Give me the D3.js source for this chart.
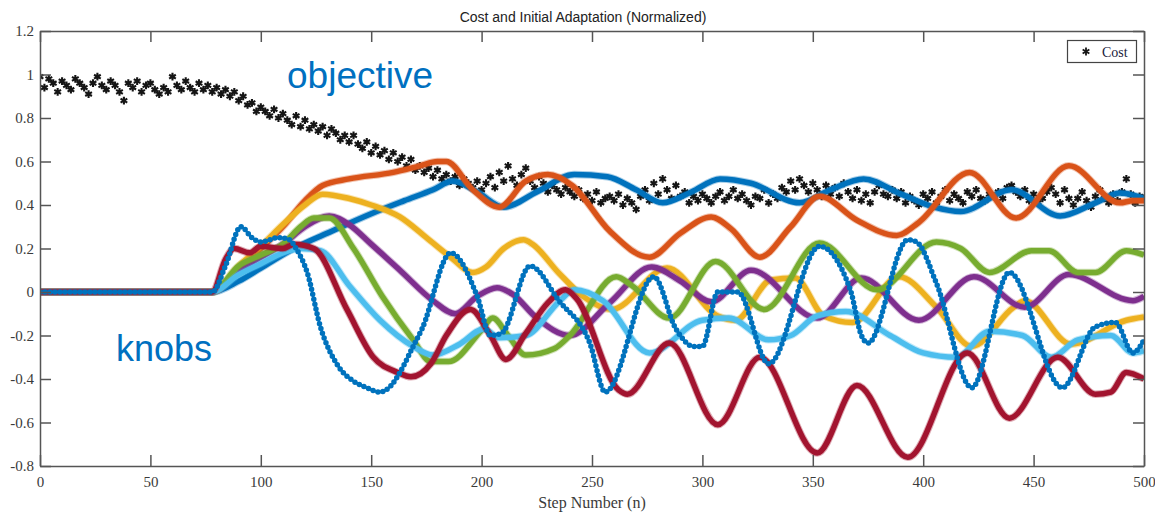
<!DOCTYPE html>
<html>
<head>
<meta charset="utf-8">
<script src="https://cdn.jsdelivr.net/npm/d3@7/dist/d3.min.js"></script>
<style>
  html, body { margin: 0; padding: 0; background: #fff; }
  svg { display: block; }
</style>
</head>
<body>
<svg id="chart" width="1155" height="514"></svg>
<script>
// ---- data -------------------------------------------------------------
const xTicks = [0, 50, 100, 150, 200, 250, 300, 350, 400, 450, 500];
const yTicks = [1.2, 1, 0.8, 0.6, 0.4, 0.2, 0, -0.2, -0.4, -0.6, -0.8];
const yTickLabels = ["1.2", "1", "0.8", "0.6", "0.4", "0.2", "0", "-0.2", "-0.4", "-0.6", "-0.8"];

// normalized cost, sampled every 2 steps (0..500)
const costStep = 2;
const cost = [
  0.99, 0.94, 0.98, 0.96, 0.92, 0.97, 0.95, 0.93, 0.98, 0.96,
  0.94, 0.91, 0.96, 0.99, 0.95, 0.93, 0.97, 0.95, 0.92, 0.88,
  0.96, 0.94, 0.97, 0.92, 0.95, 0.96, 0.93, 0.91, 0.94, 0.92,
  0.99, 0.95, 0.93, 0.97, 0.94, 0.92, 0.96, 0.93, 0.95, 0.92,
  0.94, 0.91, 0.93, 0.90, 0.92, 0.88, 0.90, 0.86, 0.87, 0.83,
  0.85, 0.83, 0.81, 0.84, 0.80, 0.82, 0.79, 0.77, 0.81, 0.76,
  0.79, 0.75, 0.77, 0.74, 0.76, 0.72, 0.75, 0.73, 0.70, 0.72,
  0.69, 0.72, 0.68, 0.66, 0.69, 0.64, 0.67, 0.63, 0.65, 0.61,
  0.64, 0.60, 0.62, 0.58, 0.61, 0.56, 0.58, 0.55, 0.57, 0.53,
  0.56, 0.52, 0.54, 0.51, 0.53, 0.49, 0.52, 0.50, 0.48, 0.51,
  0.47, 0.50, 0.53, 0.48, 0.55, 0.51, 0.58, 0.52, 0.49, 0.54,
  0.57, 0.51, 0.48, 0.53, 0.50, 0.46, 0.49, 0.47, 0.45, 0.48,
  0.46, 0.44, 0.47, 0.43, 0.45, 0.42, 0.46, 0.41, 0.43, 0.44,
  0.42, 0.45, 0.40, 0.43, 0.41, 0.38, 0.44, 0.47, 0.42, 0.50,
  0.45, 0.52, 0.47, 0.43, 0.49, 0.44, 0.46, 0.41, 0.44, 0.42,
  0.45, 0.43, 0.41, 0.44, 0.46, 0.42, 0.44, 0.47, 0.43, 0.45,
  0.42, 0.40, 0.44, 0.43, 0.47, 0.41, 0.45, 0.43, 0.48, 0.46,
  0.51, 0.47, 0.52, 0.49, 0.46, 0.50, 0.47, 0.44, 0.49, 0.45,
  0.48, 0.44, 0.50, 0.46, 0.43, 0.47, 0.42, 0.45, 0.41, 0.46,
  0.49, 0.45, 0.44, 0.47, 0.43, 0.46, 0.41, 0.44, 0.42, 0.40,
  0.45, 0.43, 0.46, 0.41, 0.44, 0.47, 0.42, 0.45, 0.43, 0.41,
  0.46, 0.44, 0.47, 0.43, 0.42, 0.45, 0.44, 0.46, 0.43, 0.48,
  0.49, 0.46, 0.44, 0.47, 0.42, 0.45, 0.41, 0.43, 0.46, 0.48,
  0.45, 0.41, 0.47, 0.43, 0.40, 0.43, 0.46, 0.42, 0.39, 0.44,
  0.47, 0.43, 0.41, 0.45, 0.42, 0.46, 0.52, 0.45, 0.41, 0.44,
  0.43
];

// knob trajectories as [step, value] pairs
const knobBlue = [[0,0],[78,0],[90,0.05],[100,0.11],[115,0.2],[130,0.27],[150,0.36],[165,0.42],[178,0.47],[187,0.51],[198,0.46],[210,0.39],[225,0.46],[242,0.54],[257,0.53],[270,0.47],[282,0.41],[295,0.46],[308,0.52],[322,0.5],[344,0.41],[358,0.47],[373,0.52],[390,0.45],[405,0.39],[417,0.37],[440,0.47],[462,0.35],[478,0.41],[489,0.455],[500,0.43]];
const knobOrange = [[0,0],[78,0],[90,0.1],[100,0.2],[110,0.3],[120,0.42],[128,0.49],[140,0.52],[160,0.55],[172,0.58],[180,0.6],[184,0.6],[196,0.47],[208,0.39],[220,0.51],[230,0.54],[241,0.49],[258,0.28],[276,0.16],[290,0.27],[304,0.345],[313,0.29],[326,0.16],[340,0.3],[353,0.44],[370,0.33],[388,0.26],[398,0.32],[421,0.55],[442,0.34],[466,0.58],[489,0.41],[495,0.42],[500,0.42]];
const knobYellow = [[0,0],[78,0],[90,0.12],[100,0.21],[110,0.31],[120,0.4],[128,0.45],[140,0.43],[150,0.4],[163,0.345],[175,0.25],[186,0.16],[196,0.09],[202,0.115],[210,0.2],[219,0.24],[223,0.22],[235,0.087],[246,-0.02],[259,-0.08],[284,0.11],[307,-0.11],[315,-0.13],[331,0.055],[342,0.064],[355,-0.11],[368,-0.14],[389,0.07],[406,-0.07],[422,-0.25],[441,-0.07],[446,-0.04],[467,-0.24],[492,-0.13],[500,-0.115]];
const knobPurple = [[0,0],[78,0],[90,0.1],[100,0.16],[110,0.22],[120,0.3],[131,0.35],[140,0.31],[150,0.22],[163,0.1],[178,-0.04],[188,-0.1],[198,-0.02],[207,0.02],[214,-0.01],[225,-0.12],[240,-0.2],[258,-0.05],[277,0.115],[290,0.05],[304,-0.045],[322,0.1],[352,-0.12],[372,0.064],[398,-0.13],[423,0.07],[446,-0.07],[466,0.08],[495,-0.04],[500,-0.02]];
const knobGreen = [[0,0],[78,0],[90,0.12],[100,0.17],[110,0.22],[118,0.3],[124,0.34],[131,0.34],[142,0.2],[155,-0.02],[169,-0.22],[177,-0.32],[185,-0.32],[200,-0.175],[205,-0.12],[212,-0.2],[220,-0.29],[233,-0.26],[240,-0.2],[261,0.07],[268,0.03],[285,-0.12],[306,0.14],[328,-0.08],[353,0.225],[379,0.01],[406,0.23],[417,0.2],[430,0.09],[449,0.19],[457,0.19],[470,0.09],[478,0.09],[492,0.19],[500,0.17]];
const knobLightBlue = [[0,0],[78,0],[90,0.08],[100,0.13],[110,0.18],[118,0.2],[127,0.19],[140,0.03],[154,-0.13],[169,-0.25],[178,-0.29],[190,-0.24],[201,-0.17],[208,-0.21],[220,-0.2],[235,-0.045],[242,0.01],[255,-0.04],[276,-0.28],[300,-0.13],[312,-0.12],[330,-0.22],[340,-0.2],[352,-0.11],[365,-0.09],[385,-0.2],[400,-0.28],[415,-0.3],[430,-0.18],[445,-0.2],[458,-0.3],[470,-0.22],[485,-0.2],[495,-0.28],[500,-0.27]];
const knobDarkRed = [[0,0],[78,0],[84,0.15],[88,0.2],[95,0.18],[100,0.21],[110,0.2],[115,0.22],[124,0.2],[139,-0.08],[151,-0.3],[162,-0.37],[168,-0.39],[177,-0.33],[184,-0.2],[195,-0.08],[204,-0.2],[211,-0.31],[220,-0.19],[230,-0.05],[238,0.01],[243,-0.03],[262,-0.45],[266,-0.47],[285,-0.235],[307,-0.61],[326,-0.3],[352,-0.74],[370,-0.43],[393,-0.76],[420,-0.28],[439,-0.58],[461,-0.3],[478,-0.47],[485,-0.46],[492,-0.37],[500,-0.4]];
const knobBlueFast = [[0,0],[78,0],[84,0.12],[91,0.3],[96,0.25],[100,0.23],[108,0.25],[113,0.24],[116,0.2],[121,0.09],[127,-0.16],[135,-0.34],[142,-0.41],[148,-0.44],[154,-0.46],[159,-0.43],[163,-0.37],[169,-0.25],[173,-0.17],[186,0.18],[198,-0.02],[204,-0.2],[209,-0.19],[222,0.12],[235,-0.04],[249,-0.235],[256,-0.46],[278,0.07],[288,-0.17],[296,-0.25],[300,-0.25],[307,0],[316,0],[330,-0.33],[353,0.21],[367,0.01],[372,-0.2],[375,-0.235],[393,0.24],[397,0.23],[406,0.04],[422,-0.44],[439,0.09],[463,-0.44],[478,-0.16],[487,-0.14],[495,-0.28],[500,-0.22]];

const knobs = [
  { values: knobBlue,      color: "#0072BD" },
  { values: knobOrange,    color: "#D95319" },
  { values: knobYellow,    color: "#EDB120" },
  { values: knobPurple,    color: "#7E2F8E" },
  { values: knobGreen,     color: "#77AC30" },
  { values: knobLightBlue, color: "#4DBEEE" },
  { values: knobDarkRed,   color: "#A2142F" },
  { values: knobBlueFast,  color: "#0072BD", dotted: true }
];

// ---- layout -----------------------------------------------------------
const svg = d3.select("#chart");
const x = d3.scaleLinear().domain([0, 500]).range([40, 1144]);
const y = d3.scaleLinear().domain([-0.8, 1.2]).range([466, 31]);
const serif = "'Liberation Serif', 'Times New Roman', serif";
const axisColor = "#555";

// clip to plot box
svg.append("defs").append("clipPath").attr("id", "plotClip")
  .append("rect").attr("x", 40).attr("y", 31).attr("width", 1104).attr("height", 435);

const plot = svg.append("g").attr("clip-path", "url(#plotClip)");

// cost markers
const star = d3.symbol().type(d3.symbolAsterisk).size(42);
plot.append("g").selectAll("path")
  .data(cost)
  .join("path")
  .attr("d", star)
  .attr("transform", (d, i) => `translate(${x(i * costStep)},${y(d)})`)
  .attr("fill", "none")
  .attr("stroke", "#151515")
  .attr("stroke-width", 2.1);

// knob trajectories
const line = d3.line()
  .x(d => x(d[0]))
  .y(d => y(d[1]))
  .curve(d3.curveMonotoneX);

knobs.forEach(k => {
  if (k.dotted) {
    plot.append("path").attr("d", line(k.values))
      .attr("fill", "none").attr("stroke", k.color)
      .attr("stroke-width", 2.2);
    plot.append("path").attr("d", line(k.values))
      .attr("fill", "none").attr("stroke", k.color)
      .attr("stroke-width", 5.5)
      .attr("stroke-linecap", "round")
      .attr("stroke-dasharray", "0 5");
  } else {
    plot.append("path").attr("d", line(k.values))
      .attr("fill", "none").attr("stroke", k.color)
      .attr("stroke-opacity", 0.35)
      .attr("stroke-width", 7.5)
      .attr("stroke-linejoin", "round");
    plot.append("path").attr("d", line(k.values))
      .attr("fill", "none").attr("stroke", k.color)
      .attr("stroke-width", 5.5)
      .attr("stroke-linejoin", "round");
  }
});

// ---- axes (box with inward ticks) ---------------------------------------
function styleAxis(g) {
  g.select(".domain").attr("stroke", axisColor).attr("stroke-width", 1.5);
  g.selectAll(".tick line").attr("stroke", axisColor).attr("stroke-width", 1.5);
  g.selectAll(".tick text")
    .attr("fill", "#3a3a3a")
    .style("font-family", serif)
    .style("font-size", "15px");
}

svg.append("g").attr("transform", "translate(0,466)")
  .call(d3.axisBottom(x).tickValues(xTicks).tickSize(-11).tickSizeOuter(0).tickPadding(10))
  .call(styleAxis);

svg.append("g").attr("transform", "translate(0,31)")
  .call(d3.axisTop(x).tickValues(xTicks).tickSize(-11).tickSizeOuter(0).tickFormat(""))
  .call(styleAxis);

svg.append("g").attr("transform", "translate(40,0)")
  .call(d3.axisLeft(y).tickValues(yTicks).tickSize(-11).tickSizeOuter(0).tickPadding(6)
    .tickFormat((d, i) => yTickLabels[i]))
  .call(styleAxis);

svg.append("g").attr("transform", "translate(1144,0)")
  .call(d3.axisRight(y).tickValues(yTicks).tickSize(-11).tickSizeOuter(0).tickFormat(""))
  .call(styleAxis);

// ---- titles and labels ------------------------------------------------
svg.append("text")
  .attr("x", 583).attr("y", 22)
  .attr("text-anchor", "middle")
  .style("font-family", "'Liberation Sans', Arial, sans-serif")
  .style("font-size", "14px")
  .attr("fill", "#222")
  .text("Cost and Initial Adaptation (Normalized)");

svg.append("text")
  .attr("x", 592).attr("y", 508)
  .attr("text-anchor", "middle")
  .style("font-family", serif)
  .style("font-size", "16px")
  .attr("fill", "#3a3a3a")
  .text("Step Number (n)");

svg.append("text")
  .attr("x", 287).attr("y", 88)
  .style("font-family", "'Liberation Sans', Arial, sans-serif")
  .style("font-size", "37px")
  .attr("fill", "#0070C0")
  .text("objective");

svg.append("text")
  .attr("x", 116).attr("y", 361)
  .style("font-family", "'Liberation Sans', Arial, sans-serif")
  .style("font-size", "36px")
  .attr("fill", "#0070C0")
  .text("knobs");

// ---- legend -------------------------------------------------------------
const legend = svg.append("g");
legend.append("rect")
  .attr("x", 1067.5).attr("y", 40.5).attr("width", 69).attr("height", 22)
  .attr("fill", "#fff").attr("stroke", "#444").attr("stroke-width", 1.2);
legend.append("path")
  .attr("d", star)
  .attr("transform", "translate(1086,51.5)")
  .attr("fill", "none").attr("stroke", "#151515").attr("stroke-width", 1.8);
legend.append("text")
  .attr("x", 1102).attr("y", 56.5)
  .style("font-family", serif)
  .style("font-size", "14px")
  .attr("fill", "#1a1a3a")
  .text("Cost");
</script>
</body>
</html>
